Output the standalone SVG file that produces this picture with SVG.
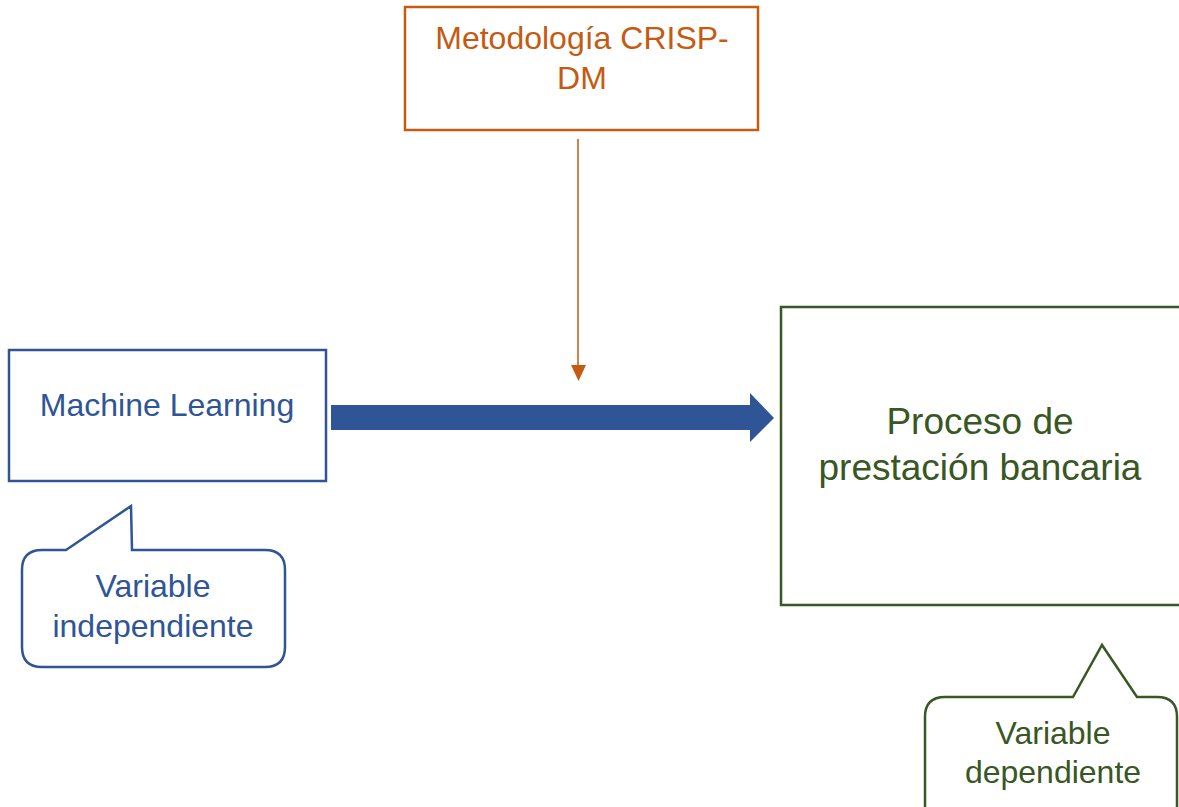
<svg xmlns="http://www.w3.org/2000/svg" width="1179" height="807" viewBox="0 0 1179 807">
  <style>
    text { font-family: "Liberation Sans", Arial, sans-serif; text-anchor: middle; font-size: 32px; }
    .orange { stroke: #C55A11; fill: none; stroke-width: 2.5; }
    .blue { stroke: #2F5597; fill: none; stroke-width: 2.5; }
    .green { stroke: #385723; fill: none; stroke-width: 2.5; }
    .t-orange { fill: #C55A11; }
    .t-blue { fill: #2F5597; }
    .t-green { fill: #385723; }
    .t-big { font-size: 37px; }
  </style>
  <rect width="1179" height="807" fill="#ffffff"/>

  <g id="connectors">
    <line x1="578" y1="139" x2="578" y2="367" stroke="#C55A11" stroke-width="1.5"/>
    <path d="M571,365 L586,365 L578.5,381 Z" fill="#C55A11"/>
    <path d="M331,405 L750,405 L750,393 L774,418 L750,442 L750,430 L331,430 Z" fill="#2F5597"/>
  </g>

  <g id="crisp-dm">
    <rect class="orange" x="405" y="7" width="353" height="123"/>
    <text class="t-orange" x="582" y="49">Metodología CRISP-</text>
    <text class="t-orange" x="582" y="89">DM</text>
  </g>

  <g id="machine-learning">
    <rect class="blue" x="9" y="350" width="317" height="131"/>
    <text class="t-blue" x="167" y="416">Machine Learning</text>
  </g>

  <g id="callout-independiente">
    <path class="blue" d="M66,550 L131,506 L132,550 L265,550 Q285,550 285,570 L285,647 Q285,667 265,667 L42,667 Q22,667 22,647 L22,570 Q22,550 42,550 Z"/>
    <text class="t-blue" x="153" y="597">Variable</text>
    <text class="t-blue" x="153" y="637">independiente</text>
  </g>

  <g id="proceso">
    <rect class="green" x="781" y="307" width="400" height="298"/>
    <text class="t-green t-big" x="980" y="434">Proceso de</text>
    <text class="t-green t-big" x="980" y="480">prestación bancaria</text>
  </g>

  <g id="callout-dependiente">
    <path class="green" d="M1073,697 L1102,645 L1137,697 L1157,697 Q1177,697 1177,717 L1177,830 L925,830 L925,717 Q925,697 945,697 Z"/>
    <text class="t-green" x="1053" y="744" font-size="31">Variable</text>
    <text class="t-green" x="1053" y="783" font-size="31">dependiente</text>
  </g>
</svg>
